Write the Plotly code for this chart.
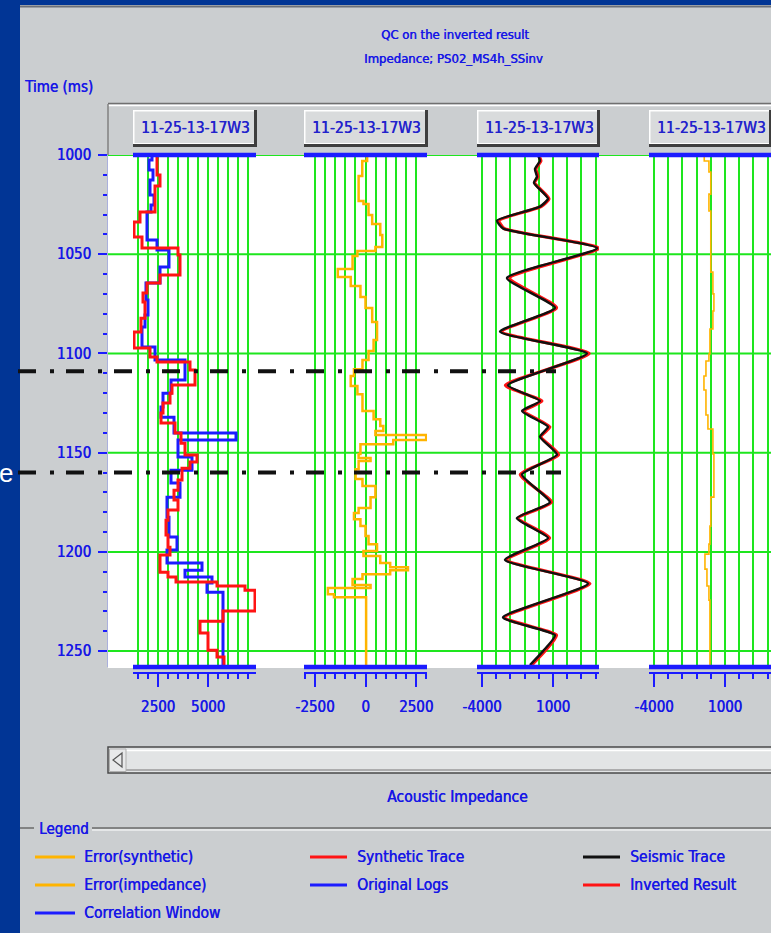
import plotly.graph_objects as go

W, H = 771, 933

# ---------------- data ----------------
TIME_TICKS = [1000, 1050, 1100, 1150, 1200, 1250]
TIME_RANGE = [1258, 1000]

# Track 1 - acoustic impedance, blocky logs (value holds from each time down to the next)
LOG_T = [1000, 1002.5, 1007.6, 1012.6, 1020.2, 1025.2, 1028.7, 1042.8, 1047.9, 1056.5,
         1064.5, 1073.1, 1080.6, 1086.7, 1096.8, 1103.3, 1113.4, 1120.0, 1127.0, 1132.1,
         1140.1, 1143.6, 1152.2, 1158.8, 1165.3, 1172.4, 1182.5, 1192.5, 1199.1, 1205.6,
         1209.2, 1212.7, 1215.7, 1220.3, 1258]
LOG_V = [2200, 2050, 2250, 2100, 2300, 2150, 1950, 2450, 3050, 2600,
         1900, 2000, 1850, 1700, 2350, 3850, 3150, 2750, 2650, 3300,
         6400, 3500, 4200, 3150, 3600, 2950, 3050, 3450, 2950, 4700,
         3850, 5200, 4950, 5750, 5750]

INV_T = [1000, 1010.1, 1015.6, 1028.7, 1033.8, 1041.3, 1046.9, 1050.4, 1060.5, 1064.5,
         1069.6, 1074.1, 1082.2, 1089.2, 1097.3, 1101.8, 1104.3, 1108.4, 1115.9, 1120.0,
         1125.0, 1130.0, 1135.1, 1140.1, 1145.2, 1151.2, 1154.7, 1157.8, 1163.8, 1168.9,
         1173.9, 1178.9, 1184.0, 1191.5, 1197.6, 1201.6, 1210.2, 1212.7, 1215.2, 1217.2,
         1219.3, 1229.8, 1234.9, 1240.9, 1249.5, 1253.0, 1258]
INV_V = [2450, 2600, 2350, 1600, 1300, 1700, 3500, 3600, 2600, 1950,
         1750, 1850, 1650, 1300, 2100, 2450, 4100, 4350, 3200, 3100,
         2750, 2650, 3350, 3650, 3850, 4450, 4100, 3700, 3500, 3300,
         3500, 3000, 2900, 3000, 3100, 2600, 3000, 3400, 5450, 6850,
         7350, 5750, 4600, 5000, 5450, 5800, 5800]

# Track 2 - impedance error
ERR_IMP_T = [1000, 1003, 1010.6, 1023.2, 1024.7, 1030.2, 1034.8, 1040.3, 1046.4, 1048.4,
             1050.9, 1057.5, 1061.5, 1066.0, 1071.6, 1077.1, 1084.2, 1093.2, 1098.8, 1103.3,
             1107.9, 1111.4, 1116.4, 1120.5, 1129.0, 1133.1, 1136.6, 1139.1, 1141.1, 1143.6,
             1145.7, 1150.7, 1152.7, 1154.2, 1158.3, 1163.3, 1166.8, 1172.4, 1177.9, 1180.4,
             1183.5, 1187.0, 1192.0, 1196.1, 1199.6, 1202.1, 1205.6, 1207.7, 1209.2, 1211.2,
             1213.7, 1216.7, 1218.2, 1221.3, 1222.8, 1258]
ERR_IMP_V = [80, -160, -340, -100, 150, 330, 730, 830, 490, -400,
             -640, -1370, -730, -250, 0, 330, 570, 400, 150, -150,
             -570, -730, -400, -150, 400, 730, 880, 490, 3000, 1370,
             -250, -340, 250, -340, -490, -150, 490, 250, -340, -570,
             -250, 0, 150, 570, -100, 730, 1220, 2100, 1220, -150,
             -640, 250, -1860, -1560, 30, 30]

# Track 3 - seismic and synthetic traces
SEIS_T = [1000, 1003, 1007, 1011, 1014, 1022, 1026, 1033, 1037, 1047,
          1062, 1077, 1089, 1100, 1116, 1124, 1129, 1137, 1142, 1151,
          1161, 1175, 1183, 1193, 1204, 1216, 1233, 1242, 1250, 1257]
SEIS_V = [-60, 80, -270, -130, -340, 650, 80, -2940, -2520, 4100,
          -2240, 1140, -2730, 3390, -2170, 80, -1180, 650, 80, 1280,
          -1180, 790, -1540, 650, -2380, 3460, -2520, 1140, 300, -620]
SYN_V = [-20, 150, -200, -60, -300, 720, 160, -2800, -2450, 4250,
         -2050, 1250, -2600, 3550, -2350, 220, -1050, 780, 150, 1400,
         -1300, 900, -1450, 760, -2250, 3600, -2400, 1250, 420, -500]

# Track 4 - synthetic error
ERR_SYN_T = [1000, 1003, 1008.6, 1019.7, 1028.2, 1059.0, 1070.0, 1078.6, 1087.7, 1100.3,
             1103.8, 1111.4, 1118.4, 1131.0, 1138.1, 1150.7, 1172.4, 1187.0, 1196.1, 1201.1,
             1208.7, 1217.2, 1224.3, 1258]
ERR_SYN_V = [-460, -130, 0, -130, 0, 150, 220, 150, -60, -130,
             -340, -480, -340, -200, 150, 220, 0, -60, -130, -410,
             -270, -130, -60, -60]

TRACK1_TICKS = [2500, 5000]
TRACK2_TICKS = [-2500, 0, 2500]
TRACK3_TICKS = [-4000, 1000]
TRACK4_TICKS = [-4000, 1000]

WINDOW_TIMES = [1109, 1160]
WELL_NAME = "11-25-13-17W3"

# ---------------- styling ----------------
FONT = "DejaVu Sans Condensed, Liberation Sans Narrow, Arial Narrow, sans-serif"
TXT = "#1616e6"
BLUE = "#1c1cff"
RED = "#ff1414"
ORANGE = "#ffb400"
BLACK = "#111111"
GREEN = "#1ee61e"
GRAY = "#cbced0"
SLIDE = "#013595"
BOLDEN = "0.5px 0px 0px #1616e6"


def px(x):
    return x / W


def py(y):
    return 1 - y / H


def txt_font(size, color=TXT):
    return dict(family=FONT, size=size, color=color, shadow=f"0.5px 0px 0px {color}")


TRACKS = [
    dict(l=133, r=256, rng=[1250, 7400], ticks=TRACK1_TICKS, minor0=0, minor=500),
    dict(l=304, r=427, rng=[-3040, 3040], ticks=TRACK2_TICKS, minor0=0, minor=500),
    dict(l=477, r=599, rng=[-4350, 4240], ticks=TRACK3_TICKS, minor0=-4000, minor=1000),
    dict(l=649, r=771, rng=[-4350, 4240], ticks=TRACK4_TICKS, minor0=-4000, minor=1000),
]

fig = go.Figure()


def step_trace(xaxis, t, v, color, width, name):
    fig.add_trace(go.Scatter(x=v, y=t, xaxis=xaxis, yaxis="y", mode="lines",
                             line=dict(color=color, width=width, shape="vh"),
                             name=name, hoverinfo="skip"))


step_trace("x", LOG_T, LOG_V, BLUE, 3, "Original Logs")
step_trace("x", INV_T, INV_V, RED, 3, "Inverted Result")
step_trace("x2", ERR_IMP_T, ERR_IMP_V, ORANGE, 2.5, "Error(impedance)")
fig.add_trace(go.Scatter(x=SYN_V, y=SEIS_T, xaxis="x3", yaxis="y", mode="lines",
                         line=dict(color=RED, width=3.2, shape="spline", smoothing=0.5),
                         name="Synthetic Trace", hoverinfo="skip"))
fig.add_trace(go.Scatter(x=SEIS_V, y=SEIS_T, xaxis="x3", yaxis="y", mode="lines",
                         line=dict(color=BLACK, width=2.4, shape="spline", smoothing=0.5),
                         name="Seismic Trace", hoverinfo="skip"))
step_trace("x4", ERR_SYN_T, ERR_SYN_V, ORANGE, 1.6, "Error(synthetic)")

TICK_FONT = txt_font(15)

layout = dict(
    width=W, height=H, margin=dict(l=0, r=0, t=0, b=0, pad=0), autosize=False,
    paper_bgcolor=GRAY, plot_bgcolor="rgba(0,0,0,0)", showlegend=False, hovermode=False,
    font=dict(family=FONT, color=TXT, size=15),
    yaxis=dict(domain=[py(667), py(155)], range=TIME_RANGE, anchor="free", position=px(107),
               automargin=False,
               tickmode="array", tickvals=TIME_TICKS, ticks="outside", ticklen=9, tickwidth=2,
               tickcolor=BLUE, showgrid=False, zeroline=False, showline=True,
               linecolor="#aab0dc", linewidth=1, ticklabelstandoff=4,
               minor=dict(tickmode="linear", tick0=1000, dtick=10, ticks="outside",
                          ticklen=4, tickwidth=2, tickcolor=BLUE),
               tickfont=TICK_FONT),
)

for i, tr in enumerate(TRACKS):
    key = "xaxis" if i == 0 else f"xaxis{i + 1}"
    layout[key] = dict(
        domain=[px(tr["l"]), px(tr["r"])], range=tr["rng"], anchor="free", position=py(673),
        automargin=False,
        side="bottom", tickmode="array", tickvals=tr["ticks"], ticktext=[str(v) for v in tr["ticks"]],
        ticks="outside", ticklen=13, tickwidth=2, tickcolor=BLUE,
        showline=True, linecolor=BLUE, linewidth=2, zeroline=False,
        showgrid=True, gridcolor=GREEN, gridwidth=1.5,
        minor=dict(tickmode="linear", tick0=tr["minor0"], dtick=tr["minor"], ticks="outside",
                   ticklen=5, tickwidth=2, tickcolor=BLUE,
                   showgrid=True, gridcolor=GREEN, gridwidth=1.5),
        ticklabelstandoff=7,
        tickfont=TICK_FONT,
    )

shapes = []


def rect(x0, y0, x1, y1, fill, line=None, lw=0, layer="below"):
    shapes.append(dict(type="rect", xref="paper", yref="paper", x0=px(x0), x1=px(x1),
                       y0=py(y0), y1=py(y1), fillcolor=fill,
                       line=dict(color=line or fill, width=lw), layer=layer))


def hline(x0, x1, y, color, width, layer="below", dash=None):
    shapes.append(dict(type="line", xref="paper", yref="paper", x0=px(x0), x1=px(x1),
                       y0=py(y), y1=py(y), line=dict(color=color, width=width, dash=dash),
                       layer=layer))


# slide frame
rect(0, 0, W, 5, SLIDE)
rect(0, 0, 20, H, SLIDE)
hline(20, W, 6.5, "#6b6f78", 2)

# white plotting canvas
rect(108, 155, W + 2, 668, "white")
# horizontal time grid across all tracks
for t in TIME_TICKS:
    shapes.append(dict(type="line", xref="paper", yref="y", x0=px(108), x1=1, y0=t, y1=t,
                       line=dict(color=GREEN, width=2), layer="below"))

# header strip with etched border
hline(108, W, 103.5, "#707070", 1.5)
hline(108, W, 105.5, "white", 1.5)
shapes.append(dict(type="line", xref="paper", yref="paper", x0=px(108), x1=px(108),
                   y0=py(104), y1=py(155), line=dict(color="#808080", width=1.5), layer="below"))

annotations = []
for i, tr in enumerate(TRACKS):
    xd = "x domain" if i == 0 else f"x{i + 1} domain"
    # blue limit bars on top and bottom of each track
    for yv in (0, 1):
        shapes.append(dict(type="line", xref=xd, yref="y domain", x0=0, x1=1, y0=yv, y1=yv,
                           line=dict(color=BLUE, width=4.5), layer="above"))
    # raised well-name button
    l, r = tr["l"], tr["r"] + 1
    rect(l, 110, r, 147, "#3e3e3e")
    rect(l, 110, r - 3, 144, "white")
    rect(l + 1.5, 111.5, r - 3, 143, "#d9dbdc")
    annotations.append(dict(xref="paper", yref="paper", x=px(l + 6), y=py(128), xanchor="left",
                            yanchor="middle", text=WELL_NAME, showarrow=False,
                            font=txt_font(15.5, "#2222cc")))

# correlation window markers
for t, x1 in zip(WINDOW_TIMES, (556, 561)):
    shapes.append(dict(type="line", xref="paper", yref="y", x0=px(18), x1=px(x1), y0=t, y1=t,
                       line=dict(color=BLACK, width=4, dash="18px,14px,4px,12px"), layer="above"))

# horizontal scroll bar
rect(108, 747, W + 2, 773, "#e2e4e5", "#4a4a4a", 1.5)
hline(110, W, 750.5, "white", 1.5)
hline(110, W, 770, "#9a9a9a", 1.5)
rect(109.5, 749, 126, 771.5, "#e8e9ea", "#b0b0b0", 1)
shapes.append(dict(type="path", xref="paper", yref="paper",
                   path=f"M {px(122)} {py(753)} L {px(113)} {py(760)} L {px(122)} {py(767)} Z",
                   line=dict(color="#555555", width=1.2), fillcolor="rgba(0,0,0,0)", layer="above"))

# legend group box
hline(20, 34, 828, "#6a6a6a", 1.5)
hline(92, W, 828, "#6a6a6a", 1.5)
hline(92, W, 830, "white", 1.2)

LEGEND = [
    (35, 75, 82, 857, "Error(synthetic)", ORANGE),
    (35, 75, 82, 885, "Error(impedance)", ORANGE),
    (35, 75, 82, 913, "Correlation Window", BLUE),
    (310, 347, 355, 857, "Synthetic Trace", RED),
    (310, 347, 355, 885, "Original Logs", BLUE),
    (583, 620, 628, 857, "Seismic Trace", BLACK),
    (583, 620, 628, 885, "Inverted Result", RED),
]
for x0, x1, xt, y, name, color in LEGEND:
    hline(x0, x1, y, color, 3, layer="above")
    annotations.append(dict(xref="paper", yref="paper", x=px(xt), y=py(y), xanchor="left",
                            yanchor="middle", text=name, showarrow=False,
                            font=txt_font(15.5)))


def label(x, y, text, anchor="center", font=None):
    annotations.append(dict(xref="paper", yref="paper", x=px(x), y=py(y), xanchor=anchor,
                            yanchor="middle", text=text, showarrow=False,
                            font=font or txt_font(15.5)))


label(455, 35, "QC on the inverted result", font=txt_font(13))
label(453, 58, "Impedance; PS02_MS4h_SSinv", font=txt_font(13))
label(22, 87, "Time (ms)", anchor="left", font=txt_font(15))
label(457, 797, "Acoustic Impedance")
label(37, 829, "Legend", anchor="left", font=txt_font(15))
label(15, 473, "e", anchor="right",
      font=dict(family="Liberation Sans, Arial, sans-serif", size=26, color="white"))

layout["shapes"] = shapes
layout["annotations"] = annotations
fig.update_layout(**layout)

fig.write_html("out.html", config={"displayModeBar": False})
